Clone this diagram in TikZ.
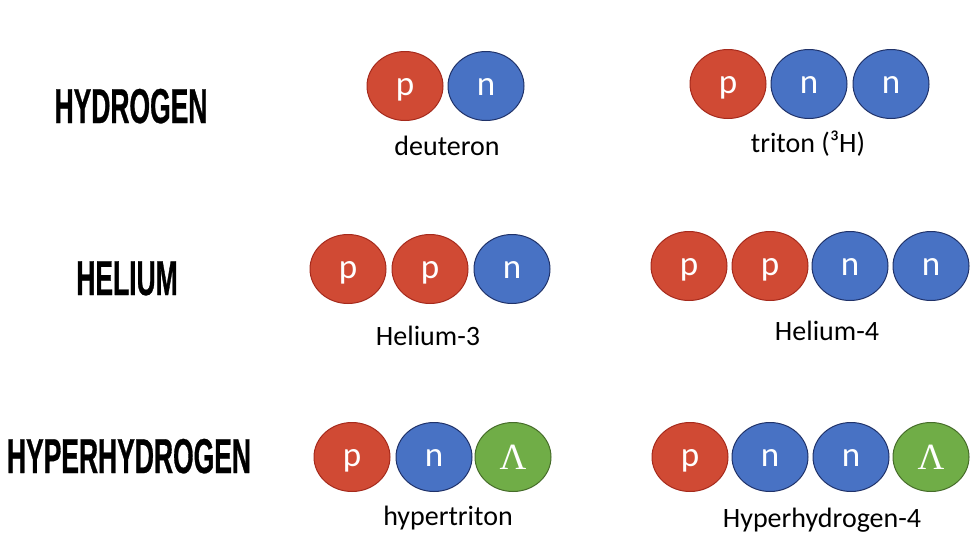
\documentclass[tikz,border=0pt]{standalone}
\usepackage{fontspec}
\setmainfont{Carlito}
\newfontfamily\headfont[FakeStretch=0.54,FakeBold=0.6]{Liberation Sans Bold}
\newfontfamily\lambdafont{Liberation Serif}
\usepackage{tikz}
\usetikzlibrary{shapes.geometric, positioning}
\usepackage{xcolor}
\definecolor{protonred}{RGB}{208,74,52}
\definecolor{protonedge}{RGB}{165,42,28}
\definecolor{neutronblue}{RGB}{72,114,196}
\definecolor{neutronedge}{RGB}{32,50,105}
\definecolor{lambdagreen}{RGB}{112,173,71}
\definecolor{lambdaedge}{RGB}{70,108,42}
\newcommand{\nucsize}{\fontsize{35}{35}\selectfont}

\begin{document}
\begin{tikzpicture}[x=1pt, y=-1pt,
    nucleon/.style={ellipse, minimum width=76pt, minimum height=69pt, inner sep=0pt,
        line width=1pt, text=white, font=\nucsize},
    proton/.style={nucleon, fill=protonred, draw=protonedge, text height=19pt, text depth=0pt},
    neutron/.style={nucleon, fill=neutronblue, draw=neutronedge, text height=19pt, text depth=0pt},
    hyperon/.style={nucleon, fill=lambdagreen, draw=lambdaedge, font=\lambdafont\fontsize{37}{37}\selectfont},
    isotope/.style={anchor=base, font=\fontsize{28}{28}\selectfont},
    elementname/.style={anchor=base, font=\headfont\fontsize{49}{49}\selectfont}]
    \useasboundingbox (0,0) rectangle (974,541);

    % Elements
    \node[elementname] (hydrogen) at (131,123) {HYDROGEN};
    \node[elementname] (helium) at (127,295) {HELIUM};
    \node[elementname] (hyperhydrogen) at (129,473) {HYPERHYDROGEN};

    % Hydrogen
    \node[proton] (deutP) at (405,86) {p};
    \node[neutron] (deutN) at (486,86) {n};
    \node[isotope] (deutLabel) at (447,155) {deuteron};

    \node[proton] (tritP) at (728,84) {p};
    \node[neutron] (tritNa) at (809,84) {n};
    \node[neutron] (tritNb) at (891,84) {n};
    \node[isotope] (tritLabel) at (808,152) {triton (³H)};

    % Helium
    \node[proton] (heThreePa) at (348,269) {p};
    \node[proton] (heThreePb) at (430,269) {p};
    \node[neutron] (heThreeN) at (512,269) {n};
    \node[isotope] (heThreeLabel) at (428,345) {Helium-3};

    \node[proton] (heFourPa) at (689,266) {p};
    \node[proton] (heFourPb) at (770,266) {p};
    \node[neutron] (heFourNa) at (850,266) {n};
    \node[neutron] (heFourNb) at (931,266) {n};
    \node[isotope] (heFourLabel) at (827,340) {Helium-4};

    % Hyperhydrogen
    \node[proton] (htP) at (352,457) {p};
    \node[neutron] (htN) at (434,457) {n};
    \node[hyperon] (htL) at (513,457) {Λ};
    \node[isotope] (htLabel) at (448,525) {hypertriton};

    \node[proton] (hhP) at (690,457) {p};
    \node[neutron] (hhNa) at (770,457) {n};
    \node[neutron] (hhNb) at (851,457) {n};
    \node[hyperon] (hhL) at (931,457) {Λ};
    \node[isotope] (hhLabel) at (822,527) {Hyperhydrogen-4};
\end{tikzpicture}
\end{document}
